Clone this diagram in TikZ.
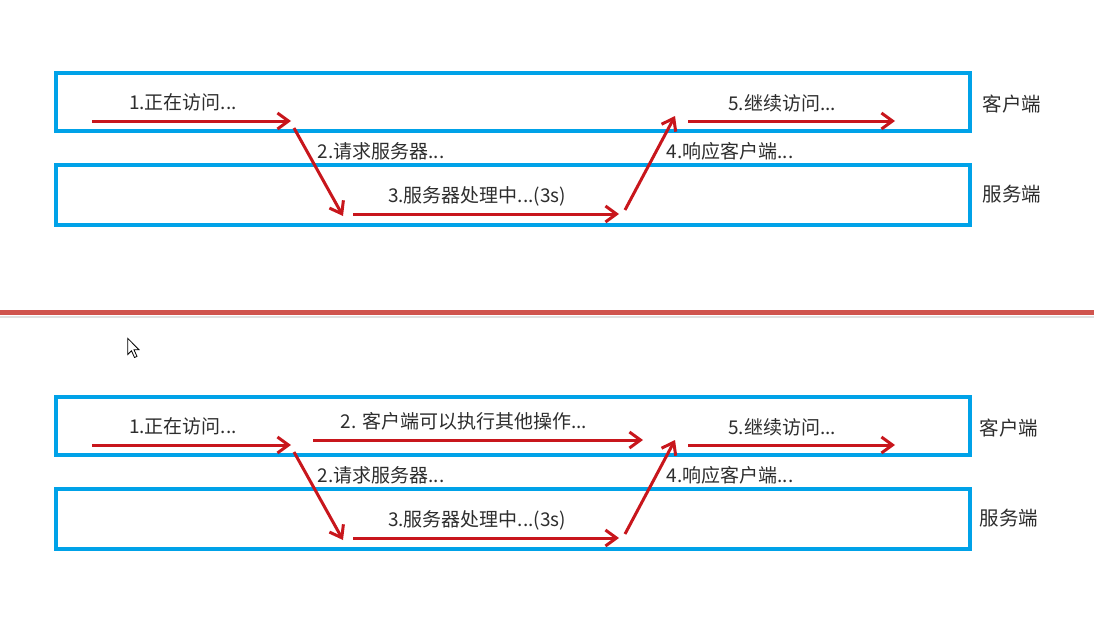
\documentclass[tikz,border=0pt]{standalone}
\usepackage{fontspec}
\setmainfont{Noto Sans CJK SC}
\usetikzlibrary{arrows.meta}
\definecolor{laneblue}{RGB}{0,162,232}
\definecolor{arrowred}{RGB}{200,22,28}
\definecolor{sepred}{RGB}{208,84,78}
\definecolor{textgray}{RGB}{45,45,45}

\begin{document}
\begin{tikzpicture}[
    x=1pt, y=-1pt,
    >={Straight Barb[length=11pt, width=16pt]},
    lane/.style={draw=laneblue, line width=4pt, minimum width=914pt,
                 inner sep=0pt},
    msg/.style={->, draw=arrowred, line width=3pt},
    lbl/.style={font=\fontsize{19}{21}\selectfont, text=textgray,
                inner sep=0pt},
    side/.style={font=\fontsize{19.5}{22}\selectfont, text=textgray,
                 inner sep=0pt},
]
\useasboundingbox (0,0) rectangle (1094,616);

% the two timelines, same layout
\foreach \sec/\dy/\lx in {t/0/1012, b/324/1009} {
  \begin{scope}[yshift=-\dy pt]
    \node[lane, minimum height=58pt] (\sec-cli) at (513,102) {};
    \node[lane, minimum height=60pt] (\sec-srv) at (513,195) {};
    \node[side] (\sec-clitxt) at (\lx,104) {客户端};
    \node[side] (\sec-srvtxt) at (\lx,194) {服务端};
    \coordinate (\sec-p1) at (92,121);
    \coordinate (\sec-p2) at (291,121);
    \coordinate (\sec-p3) at (294,128);
    \coordinate (\sec-p4) at (343,216);
    \coordinate (\sec-p5) at (353,214);
    \coordinate (\sec-p6) at (619,214);
    \coordinate (\sec-p7) at (625,210);
    \coordinate (\sec-p8) at (675,116);
    \coordinate (\sec-p9) at (688,121);
    \coordinate (\sec-p10) at (895,121);
    \node[lbl] (\sec-m1) at (183,102) {1.正在访问...};
    \node[lbl] (\sec-m2) at (381,151) {2.请求服务器...};
    \node[lbl] (\sec-m3) at (477,196) {3.服务器处理中...(3s)};
    \node[lbl] (\sec-m4) at (730,151) {4.响应客户端...};
    \node[lbl] (\sec-m5) at (782,103) {5.继续访问...};
    \foreach \a/\b in {p1/p2, p3/p4, p5/p6, p7/p8, p9/p10}
      \draw[msg] (\sec-\a) -- (\sec-\b);
  \end{scope}
}

% extra step, second timeline only
\coordinate (b-q1) at (313,440);
\coordinate (b-q2) at (643,440);
\node[lbl] (b-mx) at (464,421) {2. 客户端可以执行其他操作...};
\draw[msg] (b-q1) -- (b-q2);

% separator
\draw[sepred, line width=5pt] (0,312.5) -- (1094,312.5);
\draw[black!12, line width=2pt] (0,316.5) -- (1094,316.5);

% mouse pointer
\draw[black, fill=white, line width=0.8pt, line join=miter]
  (127.7,338.3) -- (127.7,354.5) -- (131.5,350.8) -- (134.5,357.5)
  -- (137,356.4) -- (134,349.8) -- (139,349.8) -- cycle;
\end{tikzpicture}
\end{document}
